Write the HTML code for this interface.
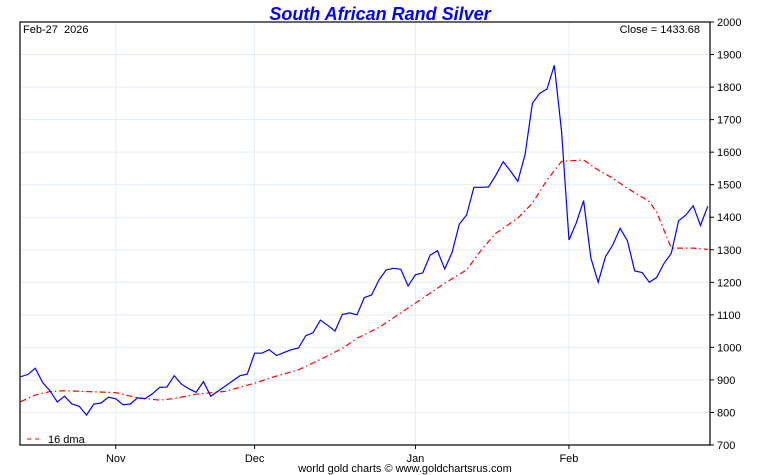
<!DOCTYPE html>
<html><head><meta charset="utf-8"><style>
html,body{margin:0;padding:0;background:#fff;}
svg{display:block;font-family:"Liberation Sans",Arial,sans-serif;}
</style></head><body>
<svg id="chart" width="760" height="475">
<text x="380" y="20" text-anchor="middle" font-size="18" font-weight="bold" font-style="italic" fill="#0000ff">South African Rand Silver</text>
<g id="grid"></g>
<g id="axis"></g>
<g id="xaxis"></g>
<path id="ma" fill="none" stroke="#ff0000" stroke-width="1.2" stroke-dasharray="6 3 1.5 3"/>
<path id="price" fill="none" stroke="#0000ff" stroke-width="1.2"/>
<rect x="20" y="22" width="690" height="423" fill="none" stroke="#000" stroke-width="1.2"/>
<text x="23" y="33" font-size="11">Feb-27&#160;&#160;2026</text>
<text x="700" y="33" font-size="11" text-anchor="end">Close = 1433.68</text>
<line x1="27" y1="439" x2="42" y2="439" stroke="#f00" stroke-dasharray="4 4"/>
<text x="48" y="443" font-size="11">16 dma</text>
<text x="405" y="472" font-size="11" text-anchor="middle">world gold charts © www.goldchartsrus.com</text>
</svg>
<script>
const priceDays = [0,1,2,3,4,5,6,7,8,9,10,11,12,13,14,15,16,17,18,19,20,21,22,23,24,25,26,
30,31,32,33,34,35,36,37,38,39,40,41,42,43,44,45,46,47,48,49,50,51,52,53,54,55,56,57,58,59,60,61,62,63,64,65,66,67,68,69,70,71,72,73,74,75,76,77,78,79,80,81,82,83,84,85,86,87,88,89,90,91,92,93,94];
const priceValues = [910,917,936,892,867,832,850,826,819,792,826,829,847,842,824,826,845,842,857,877,878,913,887,873,862,895,850,
913,918,982,982,993,975,984,993,998,1036,1045,1084,1068,1050,1101,1106,1100,1153,1161,1207,1238,1243,1240,1189,1223,1229,1283,1297,1241,1291,1379,1407,1492,1492,1493,1529,1571,1542,1510,1593,1750,1781,1794,1867,1663,1330,1383,1451,1274,1200,1279,1315,1366,1328,1235,1230,1200,1215,1258,1289,1389,1407,1435,1375,1434];
const maDays = [0,2,4,6,8,13,16,19,21,24,28,32,35,38,41,44,46,49,54,58,61,63,65,68,70,72,74,77,79,81,83,86,87,88,89,92,94];
const maValues = [833,854,864,867,865,861,845,838,843,856,865,890,912,931,963,997,1028,1061,1136,1197,1238,1299,1351,1397,1443,1514,1572,1576,1545,1520,1489,1448,1415,1360,1305,1305,1301];
const yTicks = [700,800,900,1000,1100,1200,1300,1400,1500,1600,1700,1800,1900,2000];
const monthLabels = ["Nov","Dec","Jan","Feb"];
const monthDays = [13,32,54,75];

const NS="http://www.w3.org/2000/svg";
const X0=20.7, STEP=7.31, TOP=22, BOT=445, VMIN=700, VMAX=2000;
const xs=d=>X0+d*STEP;
const ys=v=>BOT-(v-VMIN)/(VMAX-VMIN)*(BOT-TOP);
function mk(tag,attrs,parent){const e=document.createElementNS(NS,tag);for(const k in attrs)e.setAttribute(k,attrs[k]);parent.appendChild(e);return e;}
const grid=document.getElementById('grid'),axis=document.getElementById('axis'),xaxis=document.getElementById('xaxis');
yTicks.forEach(v=>{
  const y=ys(v);
  const g=mk('line',{x1:20,x2:710,y1:y,y2:y,stroke:'#e3eef8','stroke-width':1},grid);
  
  
  const t=mk('line',{x1:710,x2:714,y1:y,y2:y,stroke:'#000'},axis);
  
  
  const l=mk('text',{x:717,y:y+4,'font-size':11},axis);
  l.textContent=v;
  
  
});
monthLabels.forEach((m,i)=>{
  const x=xs(monthDays[i]);
  const g=mk('line',{x1:x,x2:x,y1:22,y2:445,stroke:'#e3eef8'},grid);
  
  
  const t=mk('line',{x1:x,x2:x,y1:445,y2:449,stroke:'#000'},xaxis);
  
  
  const l=mk('text',{x:x,y:462,'font-size':11,'text-anchor':'middle'},xaxis);
  l.textContent=m;
  
  
});
function path(days,vals){return days.map((d,i)=>(i?'L':'M')+xs(d).toFixed(1)+','+ys(vals[i]).toFixed(1)).join('');}
document.getElementById('price').setAttribute('d',path(priceDays,priceValues));
document.getElementById('ma').setAttribute('d',path(maDays,maValues));
</script>
</body></html>
